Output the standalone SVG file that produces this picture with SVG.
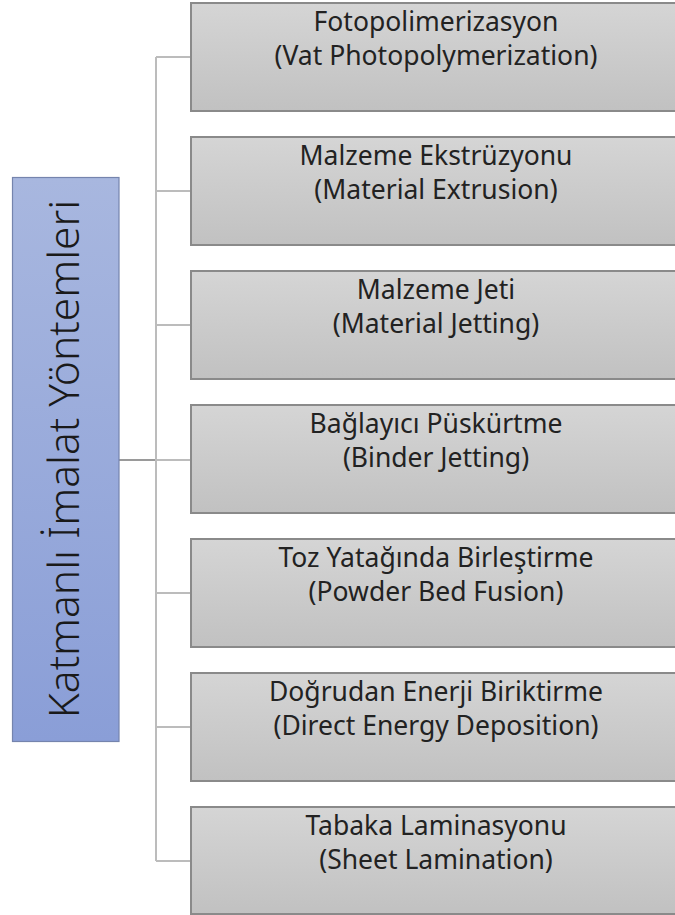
<svg xmlns="http://www.w3.org/2000/svg" width="675" height="915" viewBox="0 0 675 915">
  <defs>
    <linearGradient id="gBox" x1="0" y1="0" x2="0" y2="1">
      <stop offset="0" stop-color="#d5d5d5"/>
      <stop offset="1" stop-color="#c1c1c1"/>
    </linearGradient>
    <linearGradient id="gRoot" x1="0" y1="0" x2="0" y2="1">
      <stop offset="0" stop-color="#a8b7df"/>
      <stop offset="1" stop-color="#8a9ed7"/>
    </linearGradient>
  </defs>
  <style>
    .box { fill: url(#gBox); stroke: #8a8a8a; stroke-width: 2; }
    .root { fill: url(#gRoot); stroke: #7584ad; stroke-width: 1.2; }
    .lbl { font-family: "Noto Sans", "Liberation Sans", sans-serif; font-size: 26.5px; fill: #222; text-anchor: middle; }
    .rootlbl { font-family: "Noto Sans", "Liberation Sans", sans-serif; font-size: 42.5px; font-weight: 300; fill: #1a1a1a; text-anchor: middle; }
    .conn { stroke: #bcbcbc; stroke-width: 2; fill: none; }
    .trunk { stroke: #9a9a9a; stroke-width: 2; fill: none; }
  </style>

  <g id="connectors">
    <line class="trunk" x1="119" y1="460" x2="156" y2="460"/>
    <line class="conn" x1="156" y1="57" x2="156" y2="861"/>
    <line class="conn" x1="156" y1="57" x2="191" y2="57"/>
    <line class="conn" x1="156" y1="191" x2="191" y2="191"/>
    <line class="conn" x1="156" y1="325" x2="191" y2="325"/>
    <line class="conn" x1="156" y1="460" x2="191" y2="460"/>
    <line class="conn" x1="156" y1="593" x2="191" y2="593"/>
    <line class="conn" x1="156" y1="727" x2="191" y2="727"/>
    <line class="conn" x1="156" y1="861" x2="191" y2="861"/>
  </g>

  <g id="root">
    <rect class="root" x="12.5" y="177.5" width="106.5" height="564"/>
    <text class="rootlbl" transform="translate(79,459) rotate(-90)" x="0" y="0">Katmanlı İmalat Yöntemleri</text>
  </g>

  <g id="n1">
    <rect class="box" x="191" y="3" width="493" height="108"/>
    <text class="lbl" x="436" y="31">Fotopolimerizasyon</text>
    <text class="lbl" x="436" y="65">(Vat Photopolymerization)</text>
  </g>
  <g id="n2">
    <rect class="box" x="191" y="137" width="493" height="108"/>
    <text class="lbl" x="436" y="165">Malzeme Ekstrüzyonu</text>
    <text class="lbl" x="436" y="199">(Material Extrusion)</text>
  </g>
  <g id="n3">
    <rect class="box" x="191" y="271" width="493" height="108"/>
    <text class="lbl" x="436" y="299">Malzeme Jeti</text>
    <text class="lbl" x="436" y="333">(Material Jetting)</text>
  </g>
  <g id="n4">
    <rect class="box" x="191" y="405" width="493" height="108"/>
    <text class="lbl" x="436" y="433">Bağlayıcı Püskürtme</text>
    <text class="lbl" x="436" y="467">(Binder Jetting)</text>
  </g>
  <g id="n5">
    <rect class="box" x="191" y="539" width="493" height="108"/>
    <text class="lbl" x="436" y="567">Toz Yatağında Birleştirme</text>
    <text class="lbl" x="436" y="601">(Powder Bed Fusion)</text>
  </g>
  <g id="n6">
    <rect class="box" x="191" y="673" width="493" height="108"/>
    <text class="lbl" x="436" y="701">Doğrudan Enerji Biriktirme</text>
    <text class="lbl" x="436" y="735">(Direct Energy Deposition)</text>
  </g>
  <g id="n7">
    <rect class="box" x="191" y="807" width="493" height="107"/>
    <text class="lbl" x="436" y="835">Tabaka Laminasyonu</text>
    <text class="lbl" x="436" y="869">(Sheet Lamination)</text>
  </g>
</svg>
